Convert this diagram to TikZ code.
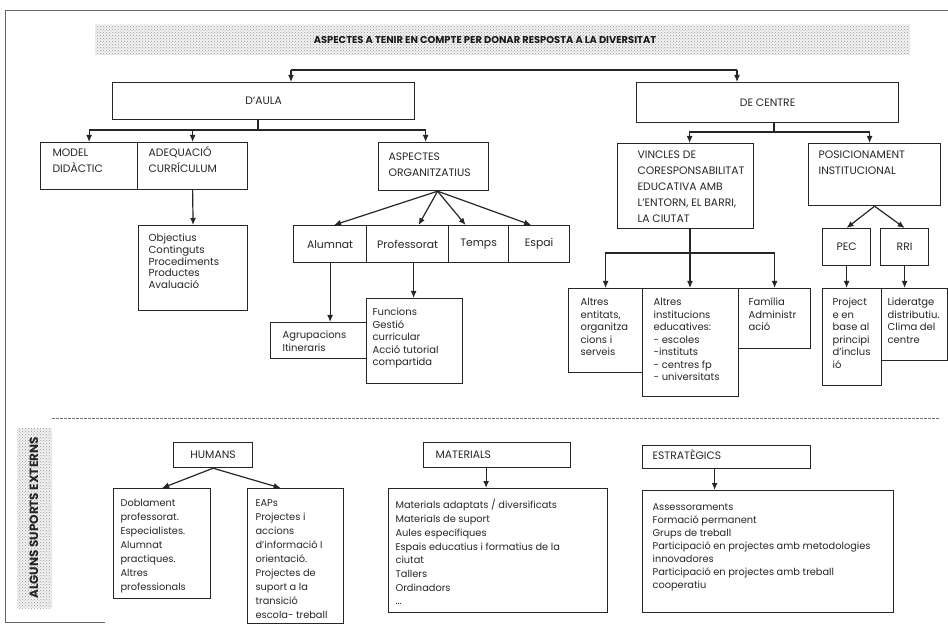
\documentclass[tikz,border=0pt]{standalone}
\usepackage{fontspec}
\setmainfont{Poppins}
\usetikzlibrary{arrows.meta,patterns}
\newcommand\fUp{\fontsize{10.8}{16.5}\selectfont}
\newcommand\fLo{\fontsize{10}{12.5}\selectfont}
\newcommand\fMid{\fontsize{10.8}{12.5}\selectfont}
\newcommand\fBt[1]{\fontsize{9.8}{#1}\selectfont}
\tikzset{
  bx/.style={draw=black!85, line width=1.2pt, inner sep=0pt, text=black!85, font=\fLo},
  arr/.style={draw=black!85, line width=1.2pt, -{Latex[length=7pt,width=6pt]}},
  ln/.style={draw=black!85, line width=1.2pt},
  band/.style={pattern=crosshatch dots, pattern color=black!40},
}
% top-left text box: [opts]{name}{x}{y}{w}{h}{pad left}{pad top}{text}
\newcommand\TB[9][]{\node[bx,anchor=north west,#1] (#2) at (#3,#4)
  {\parbox[t][#6pt][t]{#5pt}{\raggedright\leftskip=#7pt\relax\vspace*{#8pt}\rule{0pt}{10pt}#9}};}
% centred text box: [opts]{name}{x}{y}{w}{h}{text}
\newcommand\CB[7][]{\node[bx,anchor=north west,minimum width=#5pt,minimum height=#6pt,align=center,#1] (#2) at (#3,#4) {#7};}
\begin{document}
\begin{tikzpicture}[x=1pt,y=-1pt]
\useasboundingbox (0,0) rectangle (948,628);
% frame
\draw[black!60, line width=0.8pt] (5,622) -- (5,10) -- (948,10);
\draw[black!60, line width=0.8pt] (5,622) -- (105,622);
% title band
\fill[black!5] (95,25) rectangle (910,55);
\fill[band] (95,25) rectangle (910,55);
\node[font=\bfseries\fontsize{9.9}{11}\selectfont, text=black!90, inner sep=1pt] (title) at (485,40) {ASPECTES A TENIR EN COMPTE PER DONAR RESPOSTA A LA DIVERSITAT};
% level 1
\CB[font=\fUp]{DAULA}{112}{82}{302}{37}{D`AULA}
\CB[font=\fUp]{DC}{636}{82}{262}{40}{DE CENTRE}
% D'AULA branch
\TB[font=\fUp]{MODEL}{40}{142}{97}{47}{12}{3.8}{MODEL\\DIDÀCTIC}
\TB[font=\fUp]{ADEQ}{137}{142}{110}{47}{11}{3.8}{ADEQUACIÓ\\CURRÍCULUM}
\TB[font=\fUp]{ASP}{378}{142}{110}{48}{10}{7.8}{ASPECTES\\ORGANITZATIUS}
\TB[font=\fontsize{10.2}{11.7}\selectfont]{OBJ}{138}{225}{109}{85}{10}{6.3}{Objectius\\Continguts\\Procediments\\Productes\\Avaluació}
\CB[font=\fMid]{ALU}{293}{225}{73}{37}{Alumnat}
\CB[font=\fMid]{PROF}{366}{225}{82}{37}{Professorat}
\CB[font=\fMid]{TEMPS}{448}{225}{60}{37}{Temps}
\CB[font=\fMid]{ESPAI}{508}{225}{61}{37}{Espai}
\TB{AGR}{270}{322}{96}{36}{12}{6.3}{Agrupacions\\Itineraris}
\TB{FUN}{366}{298}{96}{85}{6}{7.3}{Funcions\\Gestió\\curricular\\Acció tutorial\\compartida}
% DE CENTRE branch
\TB[font=\fontsize{10.8}{16}\selectfont]{VIN}{617}{143}{136}{85}{20}{4.8}{VINCLES DE\\CORESPONSABILITAT\\EDUCATIVA AMB\\L'ENTORN, EL BARRI,\\LA CIUTAT}
\TB[font=\fUp]{POS}{808}{143}{132}{62}{10}{4.8}{POSICIONAMENT\\INSTITUCIONAL}
\CB[font=\fUp]{PEC}{822}{228}{48}{37}{PEC}
\CB[font=\fUp]{RRI}{880}{228}{48}{37}{RRI}
\TB{PROJ}{822}{288}{59}{97}{10}{7.3}{Project\\e en\\base al\\principi\\d'inclus\\ió}
\TB{LID}{881}{288}{66}{72}{6}{7.3}{Lideratge\\distributiu.\\Clima del\\centre}
\TB{AE}{568}{288}{74}{84}{12}{7.3}{Altres\\entitats,\\organitza\\cions i\\serveis}
\TB{AI}{642}{288}{96}{108}{11}{7.3}{Altres\\institucions\\educatives:\\- escoles\\-instituts\\- centres fp\\- universitats}
\TB{FA}{738}{288}{72}{60}{10}{7.3}{Família\\Administr\\ació}
% separator and side band
\draw[black!55, line width=0.7pt, dash pattern=on 3pt off 1pt] (52,418) -- (940,418);
\fill[black!5] (17,428) rectangle (52,608);
\fill[band] (17,428) rectangle (52,608);
\node[rotate=90, font=\bfseries\fontsize{12}{14}\selectfont, text=black!85] (side) at (34,518) {ALGUNS SUPORTS EXTERNS};
% external supports
\CB[font=\fUp]{HUM}{173}{442}{79}{25}{HUMANS}
\TB[font=\fBt{14}]{DOB}{113}{488}{97}{110}{7}{8.3}{Doblament\\professorat.\\Especialistes.\\Alumnat\\practiques.\\Altres\\professionals}
\TB[font=\fBt{14}]{EAP}{247}{488}{96}{135}{8}{8.3}{EAPs\\Projectes i\\accions\\d'informació I\\orientació.\\Projectes de\\suport a la\\transició\\escola- treball}
\TB[font=\fUp]{MATH}{423}{442}{147}{25}{12}{5.8}{MATERIALS}
\TB[font=\fBt{13.7}]{MATB}{388}{488}{219}{124}{7}{10.3}{Materials adaptats / diversificats\\Materials de suport\\Aules específiques\\Espais educatius i formatius de la\\ciutat\\Tallers\\Ordinadors\\...}
\TB[font=\fUp]{ESTH}{642}{445}{168}{23}{10}{3.8}{ESTRATÈGICS}
\TB[font=\fBt{13}]{ESTB}{642}{490}{251}{122}{10}{10.3}{Assessoraments\\Formació permanent\\Grups de treball\\Participació en projectes amb metodologies\\innovadores\\Participació en projectes amb treball\\cooperatiu}
% connectors: top
\coordinate (tl) at (291,70);
\coordinate (tr) at (737,70);
\draw[ln] (tl) -- (tr);
\draw[arr] (tl) -- (tl |- DAULA.north);
\draw[arr] (tr) -- (tr |- DC.north);
% D'AULA
\coordinate (ja) at (258,130);
\draw[ln] (DAULA.south -| ja) -- (ja);
\draw[arr] (ja) -| (MODEL.north);
\draw[arr] (ja) -| (ADEQ.north);
\draw[arr] (ja) -| ([xshift=-8pt]ASP.north);
\draw[arr] (ADEQ.south) -- (OBJ.north);
\draw[arr] ([xshift=4pt]ASP.south) -- ([xshift=4pt]ALU.north);
\draw[arr] ([xshift=4pt]ASP.south) -- ([xshift=11pt]PROF.north);
\draw[arr] ([xshift=4pt]ASP.south) -- ([xshift=-13pt]TEMPS.north);
\draw[arr] ([xshift=4pt]ASP.south) -- ([xshift=-8pt]ESPAI.north);
\draw[arr] (ALU.south) -- (ALU.south |- AGR.north);
\draw[arr] ([xshift=6pt]PROF.south) -- ([xshift=6pt]PROF.south |- FUN.north);
% DE CENTRE
\coordinate (jc) at (774,132);
\draw[ln] (DC.south -| jc) -- (jc);
\draw[arr] (jc) -| ([xshift=4pt]VIN.north);
\draw[arr] (jc) -| ([xshift=-5pt]POS.north);
\draw[arr] (POS.south) -- (PEC.north);
\draw[arr] (POS.south) -- (RRI.north);
\draw[arr] (PEC.south) -- (PEC.south |- PROJ.north);
\draw[arr] (RRI.south) -- (RRI.south |- LID.north);
\coordinate (jv) at (690,253);
\draw[ln] (VIN.south -| jv) -- (jv);
\draw[arr] (jv) -| (AE.north);
\draw[arr] (jv) -- (jv |- AI.north);
\draw[arr] (jv) -| (FA.north);
% bottom
\draw[arr] (HUM.south) -- (DOB.north);
\draw[arr] (HUM.south) -- ([xshift=-15pt]EAP.north);
\draw[arr] ([xshift=-11pt]MATH.south) -- ([xshift=-11pt]MATH.south |- MATB.north);
\draw[arr] ([xshift=-12pt]ESTH.south) -- ([xshift=-12pt]ESTH.south |- ESTB.north);
\end{tikzpicture}
\end{document}
